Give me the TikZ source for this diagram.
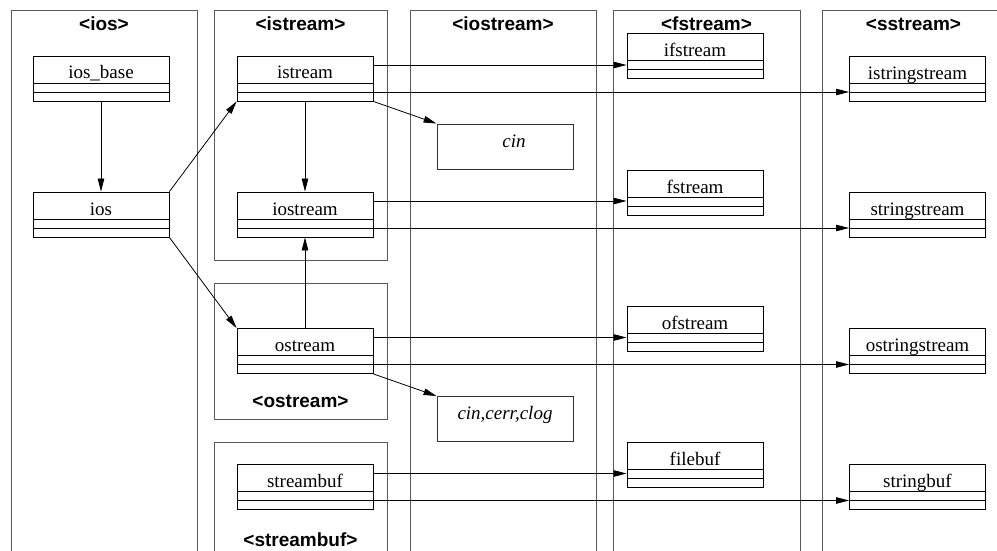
\documentclass[tikz,border=0pt]{standalone}
\usepackage{fontspec}
\setmainfont{Liberation Serif}
\setsansfont{Liberation Sans}
\usetikzlibrary{arrows.meta}

\tikzset{
  cls/.style={draw, line width=0.9pt, minimum width=136pt, minimum height=45pt,
    inner sep=0pt, text height=14pt, text depth=13pt,
    font=\fontsize{19}{22}\selectfont,
    path picture={
      \draw[line width=0.9pt] ([yshift=18pt]path picture bounding box.south west)
        -- ([yshift=18pt]path picture bounding box.south east);
      \draw[line width=0.9pt] ([yshift=9pt]path picture bounding box.south west)
        -- ([yshift=9pt]path picture bounding box.south east);
    }},
  obj/.style={draw=black!80, line width=0.9pt, minimum width=136pt, minimum height=45pt,
    inner sep=0pt, text height=14pt, text depth=13pt,
    font=\itshape\fontsize{19}{22}\selectfont},
  pkg/.style={draw=black!65, line width=0.9pt},
  pkgname/.style={font=\sffamily\bfseries\fontsize{19}{22}\selectfont},
  gen/.style={-{Triangle[length=13pt,width=6.5pt]}, line width=0.8pt}
}

\begin{document}
\begin{tikzpicture}[x=1pt,y=-1pt]
\clip (0,0) rectangle (997,551);
% header files
\draw[pkg] (11,10.7) rectangle (197,600);
\draw[pkg] (214,10.7) rectangle (387,260);
\draw[pkg] (214,283) rectangle (387,419);
\draw[pkg] (214,442) rectangle (387,600);
\draw[pkg] (410,10.7) rectangle (596,600);
\draw[pkg] (613,10.7) rectangle (800,600);
\draw[pkg] (822,10.7) rectangle (1005,600);
\node[pkgname] (h-ios) at (104,24) {<ios>};
\node[pkgname] (h-istream) at (300.5,24) {<istream>};
\node[pkgname] (h-iostream) at (503,24) {<iostream>};
\node[pkgname] (h-fstream) at (706.5,24) {<fstream>};
\node[pkgname] (h-sstream) at (913.5,24) {<sstream>};
\node[pkgname] (h-ostream) at (300.5,401) {<ostream>};
\node[pkgname] (h-streambuf) at (300.5,540) {<streambuf>};
% classes
\node[cls] (iosbase) at (101,78.5) {ios\_base};
\node[cls] (ios) at (101,214.5) {ios};
\node[cls] (istream) at (305,78.5) {istream};
\node[cls] (iostream) at (305,214.5) {iostream};
\node[cls] (ostream) at (305,351) {ostream};
\node[cls] (streambuf) at (305,487) {streambuf};
\node[cls] (ifstream) at (695,56) {ifstream};
\node[cls] (fstream) at (695,192.5) {fstream};
\node[cls] (ofstream) at (695,328.5) {ofstream};
\node[cls] (filebuf) at (695,464.5) {filebuf};
\node[cls] (istrstream) at (917.5,79) {istringstream};
\node[cls] (strstream) at (917.5,214.5) {stringstream};
\node[cls] (ostrstream) at (917.5,351) {ostringstream};
\node[cls] (strbuf) at (917.5,487) {stringbuf};
% objects
\node[obj] (cin) at (505,146.5) {\hspace{18pt}cin};
\node[obj] (cout) at (505,419) {cin,cerr,clog};
% inheritance
\draw[gen] (iosbase) -- (ios);
\draw[gen] (ios.north east) -- (istream.south west);
\draw[gen] (ios.south east) -- (ostream.north west);
\draw[gen] (istream) -- (iostream);
\draw[gen] (ostream) -- (iostream);
\draw[gen] (istream.south east) -- (cin.north west);
\draw[gen] (ostream.south east) -- (cout.north west);
\foreach \a/\b/\c in {istream/ifstream/istrstream, iostream/fstream/strstream,
    ostream/ofstream/ostrstream, streambuf/filebuf/strbuf} {
  \draw[gen] ([yshift=13.5pt]\a.east) -- ([yshift=13.5pt]\a.east -| \b.west);
  \draw[gen] ([yshift=-13.5pt]\a.east) -- ([yshift=-13.5pt]\a.east -| \c.west);
}
\end{tikzpicture}
\end{document}
